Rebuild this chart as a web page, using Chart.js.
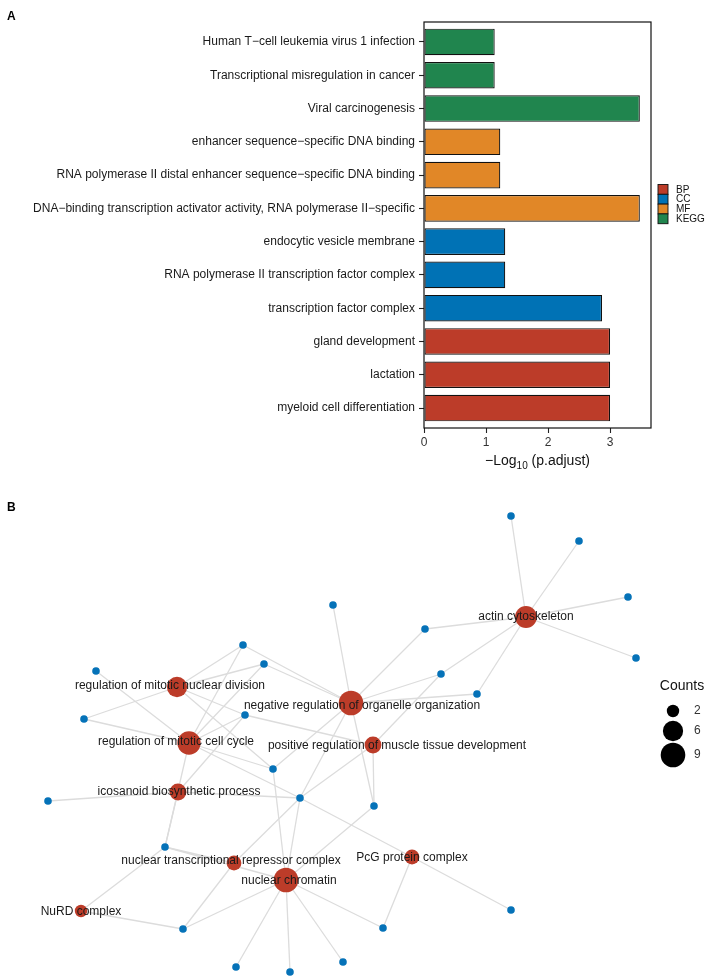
<!DOCTYPE html>
<html><head><meta charset="utf-8">
<script src="https://cdn.jsdelivr.net/npm/chart.js@4.4.1/dist/chart.umd.min.js"></script>
<style>
html,body{margin:0;padding:0;background:#fff;}
#wrap{position:relative;width:708px;height:980px;overflow:hidden;}
canvas{position:absolute;left:0;}
#cA{top:0;} #cB{top:478px;}
</style></head><body>
<div id="wrap"><canvas id="cA" width="708" height="478"></canvas><canvas id="cB" width="708" height="502"></canvas></div>
<script>
// ---------- Panel A data ----------
const categories = [
  'Human T\u2212cell leukemia virus 1 infection',
  'Transcriptional misregulation in cancer',
  'Viral carcinogenesis',
  'enhancer sequence\u2212specific DNA binding',
  'RNA polymerase II distal enhancer sequence\u2212specific DNA binding',
  'DNA\u2212binding transcription activator activity, RNA polymerase II\u2212specific',
  'endocytic vesicle membrane',
  'RNA polymerase II transcription factor complex',
  'transcription factor complex',
  'gland development',
  'lactation',
  'myeloid cell differentiation'
];
const values = [1.14, 1.14, 3.48, 1.23, 1.23, 3.48, 1.31, 1.31, 2.87, 3.0, 3.0, 3.0];
const groups = ['KEGG','KEGG','KEGG','MF','MF','MF','CC','CC','CC','BP','BP','BP'];
const groupNames = ['BP','CC','MF','KEGG'];
const groupColors = ['#BC3C29','#0072B5','#E18727','#20854E'];
const xTicks = [0,1,2,3];
const xMax = 3.66;

// ---------- Panel B data (network layout coordinates) ----------
const termNames = [
  'actin cytoskeleton',
  'negative regulation of organelle organization',
  'regulation of mitotic nuclear division',
  'regulation of mitotic cell cycle',
  'positive regulation of muscle tissue development',
  'icosanoid biosynthetic process',
  'nuclear transcriptional repressor complex',
  'nuclear chromatin',
  'PcG protein complex',
  'NuRD complex'
];
const termX = [526, 351, 177, 189, 373, 178, 234, 286, 412, 81];
const termY = [617, 703, 687, 743, 745, 792, 863, 880, 857, 911];
const termCounts = [7, 9, 6, 8, 4, 4, 3, 9, 3, 2];
const geneX = [511, 579, 628, 636, 425, 477, 441, 333, 243, 264, 96, 84, 245, 273, 300, 374, 48, 165, 511, 383, 183, 236, 290, 343];
const geneY = [516, 541, 597, 658, 629, 694, 674, 605, 645, 664, 671, 719, 715, 769, 798, 806, 801, 847, 910, 928, 929, 967, 972, 962];
const edges = [
  [0,0],[0,1],[0,2],[0,3],[0,4],[0,5],[0,6],
  [1,4],[1,5],[1,6],[1,7],[1,8],[1,9],[1,13],[1,14],[1,15],
  [2,8],[2,9],[2,11],[2,12],[2,13],
  [3,8],[3,9],[3,10],[3,11],[3,12],[3,13],[3,14],[3,17],
  [4,6],[4,12],[4,14],[4,15],
  [5,12],[5,14],[5,16],[5,17],
  [6,14],[6,17],[6,20],
  [7,13],[7,14],[7,15],[7,17],[7,19],[7,20],[7,21],[7,22],[7,23],
  [8,14],[8,18],[8,19],
  [9,17],[9,20]
];
const countBreaks = [2, 6, 9];

// ---------- styles ----------
const FONT = '"Liberation Sans", Arial, Helvetica, sans-serif';
const labelDx = [0, 11, -7, -13, 24, 1, -3, 3, 0, 0];
const labelDy = [0, 3, -1, -1, 1, 0, -2, 1, 1, 1];
function radiusFor(c){ const a=6.2, b=12.3; return Math.sqrt(a*a + (c-2)/7*(b*b-a*a)); }

// ---------- Panel A ----------
const boxPlugin = {
  id:'boxA',
  afterDraw(chart){
    const {ctx, chartArea:ca} = chart;
    ctx.save();
    ctx.strokeStyle='#111'; ctx.lineWidth=1.2;
    ctx.strokeRect(ca.left, ca.top, ca.right-ca.left, ca.bottom-ca.top);
    // axis title with subscript
    const cx=(ca.left+ca.right)/2, ty=461;
    const p1='\u2212Log', p2='10', p3=' (p.adjust)';
    ctx.fillStyle='#111'; ctx.textBaseline='middle';
    ctx.font='14px '+FONT; const w1=ctx.measureText(p1).width, w3=ctx.measureText(p3).width;
    ctx.font='10px '+FONT; const w2=ctx.measureText(p2).width;
    let x=cx-(w1+w2+w3)/2;
    ctx.textAlign='left';
    ctx.font='14px '+FONT; ctx.fillText(p1,x,ty); x+=w1;
    ctx.font='10px '+FONT; ctx.fillText(p2,x,ty+5); x+=w2;
    ctx.font='14px '+FONT; ctx.fillText(p3,x,ty);
    // legend
    const lx=658, ly=184.5, kh=9.8, kw=10;
    groupNames.forEach((g,i)=>{
      ctx.fillStyle=groupColors[i];
      ctx.fillRect(lx, ly+i*kh, kw, kh);
      ctx.strokeStyle='#111'; ctx.lineWidth=0.9;
      ctx.strokeRect(lx, ly+i*kh, kw, kh);
      ctx.fillStyle='#111'; ctx.font='10px '+FONT; ctx.textAlign='left';
      ctx.fillText(g, 676, ly+i*kh+kh/2+0.5);
    });
    ctx.font='bold 12px '+FONT; ctx.textAlign='left'; ctx.fillStyle='#000';
    ctx.fillText('A', 7, 17);
    ctx.restore();
  }
};
new Chart(document.getElementById('cA'), {
  type:'bar',
  data:{ datasets:[{
    data: values.map((v,i)=>({x:v, y:i})),
    backgroundColor: groups.map(g=>groupColors[groupNames.indexOf(g)]),
    borderColor:'#111', borderWidth:1.2, borderSkipped:false,
    barPercentage:0.8, categoryPercentage:1
  }]},
  options:{
    indexAxis:'y', responsive:false, animation:false, devicePixelRatio:1,
    layout:{padding:{left:0,right:57,top:22,bottom:0}, autoPadding:false},
    plugins:{legend:{display:false}, tooltip:{enabled:false}},
    scales:{
      x:{type:'linear', min:0, max:xMax, offset:false,
        afterBuildTicks:s=>{ s.ticks = xTicks.map(v=>({value:v})); },
        grid:{drawOnChartArea:false, drawTicks:true, tickLength:5, tickColor:'#222', tickWidth:1.1, offset:false},
        border:{display:false},
        ticks:{font:{family:FONT,size:12}, color:'#333', padding:2},
        afterFit:s=>{ s.height=50; }
      },
      y:{type:'linear', min:-0.6, max:11.6, reverse:true, offset:false,
        afterBuildTicks:s=>{ s.ticks = categories.map((c,i)=>({value:i})); },
        grid:{drawOnChartArea:false, drawTicks:true, tickLength:5, tickColor:'#222', tickWidth:1.1, offset:false},
        border:{display:false},
        ticks:{callback:(v)=>categories[v], font:{family:FONT,size:12}, color:'#1a1a1a', padding:4, autoSkip:false},
        afterFit:s=>{ s.width=424; }
      }
    }
  },
  plugins:[boxPlugin]
});

// ---------- Panel B ----------
const netPlugin = {
  id:'netB',
  afterDatasetsDraw(chart){
    const {ctx, scales:{x,y}} = chart;
    ctx.save();
    ctx.font='12px '+FONT; ctx.fillStyle='#1a1a1a';
    ctx.textAlign='center'; ctx.textBaseline='middle';
    termNames.forEach((n,i)=>{
      ctx.fillText(n, x.getPixelForValue(termX[i]+labelDx[i]), y.getPixelForValue(termY[i]+labelDy[i]));
    });
    // size legend
    ctx.font='14px '+FONT; ctx.fillStyle='#111';
    ctx.fillText('Counts', x.getPixelForValue(682), y.getPixelForValue(686));
    const ys=[711,731,755];
    countBreaks.forEach((c,i)=>{
      ctx.beginPath(); ctx.fillStyle='#000';
      ctx.arc(x.getPixelForValue(673), y.getPixelForValue(ys[i]), radiusFor(c), 0, Math.PI*2); ctx.fill();
      ctx.font='12px '+FONT; ctx.fillStyle='#333'; ctx.textAlign='left';
      ctx.fillText(String(c), x.getPixelForValue(694), y.getPixelForValue(ys[i]));
    });
    ctx.font='bold 12px '+FONT; ctx.fillStyle='#000'; ctx.textAlign='left';
    ctx.fillText('B', x.getPixelForValue(7), y.getPixelForValue(508));
    ctx.restore();
  }
};
const edgeSets = edges.map(([t,g])=>({
  type:'scatter', showLine:true, order:3,
  data:[{x:termX[t], y:termY[t]}, {x:geneX[g], y:geneY[g]}],
  borderColor:'#dcdcdc', borderWidth:1.3, pointRadius:0, clip:false
}));
new Chart(document.getElementById('cB'), {
  type:'scatter',
  data:{ datasets:[
    { order:1, data: termX.map((v,i)=>({x:v, y:termY[i]})), pointRadius: termCounts.map(radiusFor),
      backgroundColor:'#BC3C29', borderWidth:0, pointHoverRadius: termCounts.map(radiusFor), clip:false },
    { order:2, data: geneX.map((v,i)=>({x:v, y:geneY[i]})), pointRadius:3.8,
      backgroundColor:'#0572B8', borderWidth:0, clip:false },
    ...edgeSets
  ]},
  options:{
    responsive:false, animation:false, devicePixelRatio:1,
    layout:{padding:0, autoPadding:false},
    plugins:{legend:{display:false}, tooltip:{enabled:false}},
    scales:{
      x:{type:'linear', min:0, max:708, display:false},
      y:{type:'linear', min:478, max:980, reverse:true, display:false}
    }
  },
  plugins:[netPlugin]
});
</script>
</body></html>
